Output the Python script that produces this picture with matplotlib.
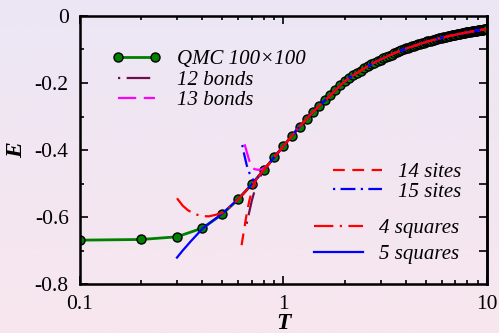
import numpy as np
import matplotlib
matplotlib.use('Agg')
from matplotlib import pyplot as plt
from matplotlib.ticker import LogLocator, MultipleLocator, NullFormatter
from matplotlib.colors import LinearSegmentedColormap

plt.rcParams['font.family'] = ['Liberation Serif', 'DejaVu Serif']

# QMC 100x100, T = 0.1 ... 10.0 in steps of 0.1
T_qmc = np.round(np.arange(1, 101) * 0.1, 1)
E_qmc = [-0.669, -0.667, -0.659, -0.633, -0.592, -0.547, -0.502, -0.460, -0.422, -0.388,
         -0.358, -0.330, -0.307, -0.286, -0.268, -0.252, -0.237, -0.222, -0.207, -0.195,
         -0.186, -0.177, -0.170, -0.163, -0.156, -0.150, -0.144, -0.139, -0.134, -0.130,
         -0.126, -0.122, -0.118, -0.115, -0.111, -0.108, -0.105, -0.103, -0.100, -0.097,
         -0.095, -0.093, -0.091, -0.089, -0.087, -0.085, -0.083, -0.081, -0.080, -0.078,
         -0.076, -0.075, -0.074, -0.072, -0.071, -0.070, -0.068, -0.067, -0.066, -0.065,
         -0.064, -0.063, -0.062, -0.061, -0.060, -0.059, -0.058, -0.057, -0.057, -0.056,
         -0.055, -0.054, -0.053, -0.053, -0.052, -0.051, -0.051, -0.050, -0.049, -0.049,
         -0.048, -0.048, -0.047, -0.046, -0.046, -0.045, -0.045, -0.044, -0.044, -0.043,
         -0.043, -0.042, -0.042, -0.041, -0.041, -0.041, -0.040, -0.040, -0.039, -0.039]
E_qmc = np.array(E_qmc)

# NLCE low-T parts (high-T part follows the QMC curve)
T_12b = [0.66, 0.68, 0.70, 0.72, 0.75, 0.78, 0.80]
E_12b = [-0.620, -0.584, -0.550, -0.524, -0.494, -0.472, -0.460]
T_13b = [0.645, 0.66, 0.68, 0.70, 0.72, 0.75, 0.78, 0.80, 0.85]
E_13b = [-0.383, -0.405, -0.432, -0.450, -0.457, -0.459, -0.458, -0.455, -0.442]
T_14s = [0.623, 0.64, 0.66, 0.68, 0.70, 0.72, 0.75, 0.80]
E_14s = [-0.684, -0.640, -0.590, -0.551, -0.522, -0.500, -0.478, -0.460]
T_15s = [0.628, 0.64, 0.66, 0.68, 0.70, 0.72, 0.75, 0.80]
E_15s = [-0.385, -0.410, -0.445, -0.468, -0.484, -0.493, -0.481, -0.460]
T_4sq = [0.30, 0.32, 0.34, 0.37, 0.40, 0.43, 0.46, 0.50, 0.55, 0.60, 0.70, 0.80]
E_4sq = [-0.544, -0.566, -0.580, -0.592, -0.597, -0.598, -0.594, -0.588, -0.569, -0.547, -0.502, -0.460]
T_5sq = [0.30, 0.32, 0.35, 0.40, 0.45, 0.50, 0.60, 0.70, 0.80]
E_5sq = [-0.721, -0.700, -0.673, -0.635, -0.611, -0.590, -0.546, -0.502, -0.460]

tail = T_qmc >= 0.9
T_tail = T_qmc[tail]
E_tail = E_qmc[tail]


def full(t, e):
    return np.concatenate([t, T_tail]), np.concatenate([e, E_tail])


fig = plt.figure(figsize=(4.99, 3.33), dpi=100)

# background gradient
bg = fig.add_axes([0, 0, 1, 1], zorder=-10)
bg.axis('off')
cmap = LinearSegmentedColormap.from_list('bg', ['#ece6f5', '#f8e6ee'])
bg.imshow(np.linspace(0, 1, 256).reshape(-1, 1), aspect='auto', cmap=cmap,
          extent=[0, 1, 0, 1])

ax = fig.add_axes([0.160, 0.147, 0.816, 0.805])
ax.set_facecolor('none')

lw = 1.6
qmc, = ax.plot(T_qmc, E_qmc, '-o', color='#008000', lw=2, ms=6.5,
               mfc='#008000', mec='black', mew=1.0, zorder=2,
               label='QMC 100\u00d7100')
l12, = ax.plot(*full(T_12b, E_12b), color='#6b0f4e', lw=lw,
               ls=(18.3, (10.6, 2.9, 1, 3.8, 1, 2.9)), label='12 bonds', zorder=3)
l13, = ax.plot(*full(T_13b, E_13b), color='#ff00ff', lw=lw,
               ls=(0, (8.2, 3.4)), label='13 bonds', zorder=3)
l15, = ax.plot(*full(T_15s, E_15s), color='#0000ff', lw=lw,
               ls=(9.1, (6.7, 2.4, 1, 2.4)), label='15 sites', zorder=3)
l5q, = ax.plot(*full(T_5sq, E_5sq), color='#0000ff', lw=lw,
               label='5 squares', zorder=3)
l14, = ax.plot(*full(T_14s, E_14s), color='#ff0000', lw=lw,
               ls=(0, (5.3, 3.4)), label='14 sites', zorder=4)
l4q, = ax.plot(*full(T_4sq, E_4sq), color='#ff0000', lw=lw,
               ls=(0, (8.7, 2.9, 1, 2.9)), label='4 squares', zorder=4)

ax.set_xscale('log')
ax.set_xlim(0.1, 10)
ax.set_ylim(-0.8, 0)
ax.set_xticks([0.1, 1, 10])
ax.set_xticklabels(['0.1', '1', '10'])
ax.xaxis.set_minor_locator(LogLocator(base=10, subs=range(2, 10)))
ax.xaxis.set_minor_formatter(NullFormatter())
ax.set_yticks([-0.8, -0.6, -0.4, -0.2, 0])
ax.set_yticklabels(['-0.8', '-0.6', '-0.4', '-0.2', '0'])
ax.yaxis.set_minor_locator(MultipleLocator(0.1))

for s in ax.spines.values():
    s.set_linewidth(1.8)
ax.tick_params(which='both', direction='in', top=True, right=False, width=1.2,
               labelsize=15.5)
ax.tick_params(which='major', length=5.8)
ax.tick_params(which='minor', length=3.2)
ax.tick_params(axis='y', pad=8)
ax.tick_params(axis='x', pad=8)

rt = ax.twinx()
rt.set_ylim(-0.8, 0)
rt.set_yticks(np.arange(-0.7, 0, 0.1))
rt.tick_params(direction='in', length=5.8, width=1.2, labelright=False)
rt.spines['right'].set_linewidth(1.8)

ax.set_xlabel('T', style='italic', fontweight='bold', fontsize=17, labelpad=-0.5)
ax.set_ylabel('E', style='italic', fontweight='bold', fontsize=17, labelpad=5)

leg_kw = dict(frameon=False, borderpad=0, borderaxespad=0,
              handlelength=2.35, handletextpad=0.75, prop={'style': 'italic', 'size': 15})
L1 = ax.legend(handles=[qmc, l12, l13], loc='center left', numpoints=2,
               bbox_to_anchor=(0.079, 0.761), labelspacing=0.05, **leg_kw)
ax.add_artist(L1)
L2 = ax.legend(handles=[l14, l15], loc='center left',
               bbox_to_anchor=(0.622, 0.38), labelspacing=0.0, **leg_kw)
ax.add_artist(L2)
L3 = ax.legend(handles=[l4q, l5q], loc='center left',
               bbox_to_anchor=(0.575, 0.16), labelspacing=0.32, **leg_kw)

fig.savefig('out.png', dpi=100)
